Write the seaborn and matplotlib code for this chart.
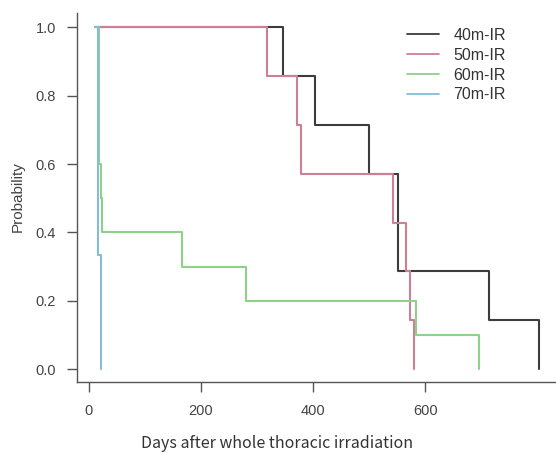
import numpy as np
import pandas as pd
import matplotlib
matplotlib.use("Agg")
import matplotlib.pyplot as plt
import seaborn as sns

# ---- data (Kaplan-Meier style step curves) ----
groups = ["40m-IR", "50m-IR", "60m-IR", "70m-IR"]
days_40 = [11, 347, 403, 500, 551, 713, 802]
surv_40 = [1.0, 6/7, 5/7, 4/7, 2/7, 1/7, 0.0]
days_50 = [11, 317, 371, 379, 543, 565, 573, 580]
surv_50 = [1.0, 6/7, 5/7, 4/7, 3/7, 2/7, 1/7, 0.0]
days_60 = [11, 18, 21.7, 24.6, 167, 280.5, 583, 695]
surv_60 = [1.0, 0.6, 0.5, 0.4, 0.3, 0.2, 0.1, 0.0]
days_70 = [11, 16.5, 21.5]
surv_70 = [1.0, 1/3, 0.0]

x_ticks = [0, 200, 400, 600]
y_ticks = [0.0, 0.2, 0.4, 0.6, 0.8, 1.0]
x_label = "Days after whole thoracic irradiation"
y_label = "Probability"

colors = ["#3c3c3c", "#cc8096", "#8fd08a", "#86bcd6"]

frames = []
for g, d, s in zip(groups, [days_40, days_50, days_60, days_70],
                   [surv_40, surv_50, surv_60, surv_70]):
    frames.append(pd.DataFrame({"day": d, "surv": s, "group": g}))
df = pd.concat(frames, ignore_index=True)

sns.set_theme(style="ticks")
plt.rcParams["font.family"] = ["Liberation Sans", "DejaVu Sans"]

fig = plt.figure(figsize=(5.56, 4.53), dpi=100)
ax = fig.add_axes([77/556, 71/453, 1 - 77/556, (382-13)/453])

sns.lineplot(data=df, x="day", y="surv", hue="group", hue_order=groups,
             palette=colors, drawstyle="steps-post", estimator=None,
             sort=False, linewidth=1.5, ax=ax)

ax.set_xlim(-20.5, 832.6)
ax.set_ylim(-0.038, 1.042)
ax.set_xticks(x_ticks)
ax.set_xticklabels([str(v) for v in x_ticks])
ax.set_yticks(y_ticks)
ax.set_yticklabels([f"{v:.1f}" for v in y_ticks])

for side in ["top", "right"]:
    ax.spines[side].set_visible(False)
for side in ["left", "bottom"]:
    ax.spines[side].set_color("#555555")
    ax.spines[side].set_linewidth(1.0)

ax.tick_params(axis="both", direction="out", length=7, width=1.0,
               color="#555555", labelcolor="#444444", labelsize=10.5)
ax.tick_params(axis="x", pad=9)
ax.tick_params(axis="y", pad=8)

ax.set_ylabel(y_label, fontsize=11, color="#444444")
ax.yaxis.set_label_coords(-(77 - 18) / 479, (382 - 197) / 369, transform=ax.transAxes)
ax.yaxis.label.set_va("center")

# x axis title placed as figure text (reference is cropped on the right)
ax.set_xlabel("")
fig.text(277 / 556, 1 - 444 / 453, x_label, ha="center", va="center",
         fontsize=11.5, color="#333333",
         family=["Noto Sans CJK JP", "DejaVu Sans"])

leg = ax.legend(title=None, frameon=False, fontsize=11.5, loc="upper left",
                bbox_to_anchor=(399/556, 1 - 20/453),
                bbox_transform=fig.transFigure, borderpad=0,
                handlelength=2.0, handletextpad=0.9, labelspacing=0.3)
for t in leg.get_texts():
    t.set_color("#333333")
for h in leg.legend_handles:
    h.set_linewidth(1.3)

fig.savefig("out.png", dpi=100, facecolor="white")
